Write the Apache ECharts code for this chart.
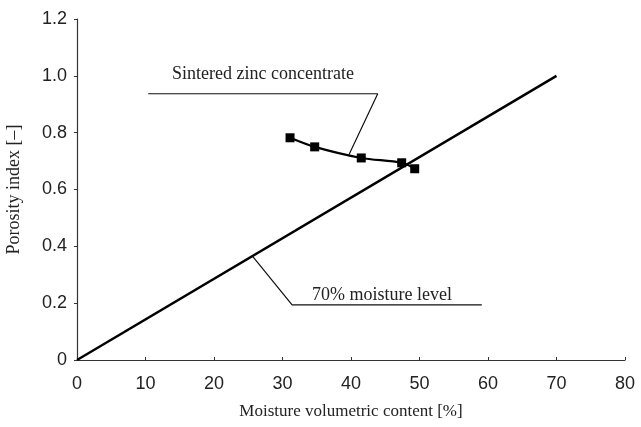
<!DOCTYPE html>
<html><head><meta charset="utf-8">
<script src="https://cdn.jsdelivr.net/npm/echarts@6/dist/echarts.min.js"></script>
<style>html,body{margin:0;padding:0;background:#fff}#c{width:641px;height:427px}</style>
</head><body><div id="c"></div>
<script>
// 70% moisture level reference line
const levelX = [0, 70];
const levelY = [0, 1.0];
// Sintered zinc concentrate
const zincX = [31.1, 34.7, 41.5, 47.4, 49.3];
const zincY = [0.782, 0.75, 0.711, 0.694, 0.673];
// annotation leaders (data coords)
const zincLeaderX = [10.4, 43.9, 39.7];
const zincLeaderY = [0.937, 0.937, 0.722];
const levelLeaderX = [25.7, 31.4, 59.1];
const levelLeaderY = [0.363, 0.194, 0.194];
const xTicks = [0, 10, 20, 30, 40, 50, 60, 70, 80];
const yTicks = [0, 0.2, 0.4, 0.6, 0.8, 1.0, 1.2];
const zip = (a, b) => a.map((v, i) => [v, b[i]]);

const chart = echarts.init(document.getElementById('c'), null, {renderer: 'canvas'});
const lbl = {color: '#222', fontFamily: 'Liberation Sans', fontSize: 18};
chart.setOption({
  animation: false,
  grid: {left: 77, right: 16, top: 19, bottom: 67, containLabel: false, outerBoundsMode: 'none'},
  xAxis: {
    type: 'value', min: xTicks[0], max: xTicks[xTicks.length - 1], interval: 10,
    axisLine: {show: true, lineStyle: {color: '#333', width: 1.2}},
    axisTick: {show: true, inside: true, length: 3, lineStyle: {color: '#333'}},
    splitLine: {show: false},
    name: 'Moisture volumetric content [%]', nameLocation: 'middle', nameGap: 43,
    nameTextStyle: {fontFamily: 'Liberation Serif', fontSize: 17, color: '#222'},
    axisLabel: Object.assign({}, lbl, {margin: 15})
  },
  yAxis: {
    type: 'value', min: yTicks[0], max: yTicks[yTicks.length - 1], interval: 0.2,
    axisLine: {show: true, lineStyle: {color: '#333', width: 1.2}},
    axisTick: {show: true, inside: false, length: 3, lineStyle: {color: '#333'}},
    splitLine: {show: false},
    name: 'Porosity index [\u2013]', nameLocation: 'middle', nameGap: 54,
    nameTextStyle: {fontFamily: 'Liberation Serif', fontSize: 18, color: '#222'},
    axisLabel: Object.assign({}, lbl, {margin: 10,
      formatter: v => v === 0 ? '0' : v.toFixed(1)})
  },
  series: [
    {type: 'line', data: zip(levelX, levelY), symbol: 'none',
     lineStyle: {color: '#000', width: 2.5}},
    {type: 'line', data: zip(zincX, zincY), symbol: 'rect', symbolSize: 9, smooth: 0.3,
     itemStyle: {color: '#000'}, lineStyle: {color: '#000', width: 2.2}},
    {type: 'line', data: zip(zincLeaderX, zincLeaderY), symbol: 'none',
     lineStyle: {color: '#111', width: 1.2}},
    {type: 'line', data: zip(levelLeaderX, levelLeaderY), symbol: 'none',
     lineStyle: {color: '#111', width: 1.2}}
  ]
});
const p1 = chart.convertToPixel({gridIndex: 0}, [(zincLeaderX[0] + zincLeaderX[1]) / 2, zincLeaderY[0]]);
const p2 = chart.convertToPixel({gridIndex: 0}, [(levelLeaderX[1] + levelLeaderX[2]) / 2, levelLeaderY[1]]);
chart.setOption({
  graphic: [
    {type: 'text', x: p1[0], y: p1[1] - 10, style: {text: 'Sintered zinc concentrate', fontFamily: 'Liberation Serif',
      fontSize: 18, fill: '#222', align: 'center', verticalAlign: 'bottom'}},
    {type: 'text', x: p2[0] - 5, y: p2[1] - 1, style: {text: '70% moisture level', fontFamily: 'Liberation Serif',
      fontSize: 18, fill: '#222', align: 'center', verticalAlign: 'bottom'}}
  ]
});
</script></body></html>
